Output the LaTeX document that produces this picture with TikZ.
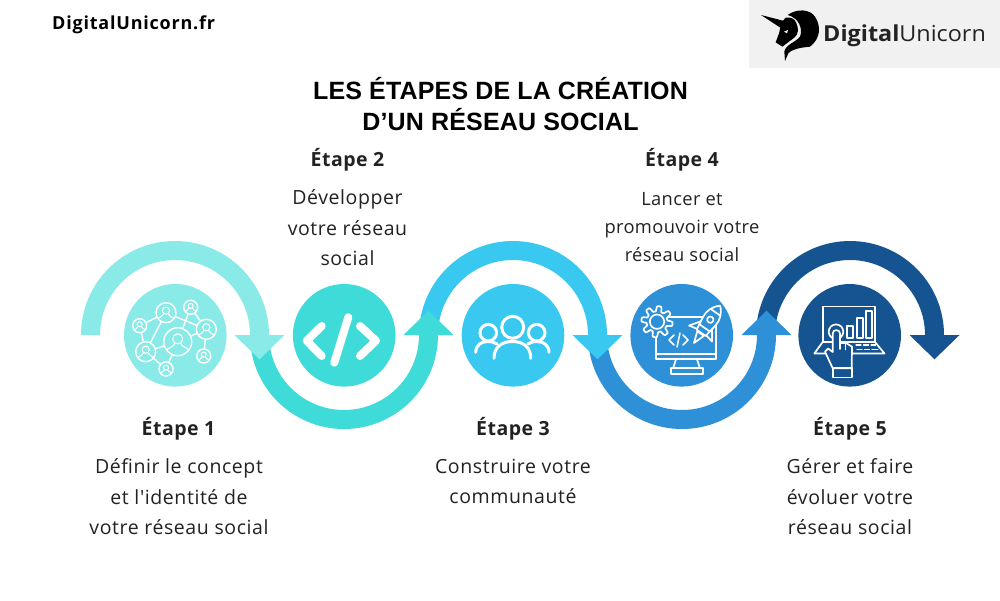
\documentclass[tikz,border=0pt]{standalone}
\usepackage{fontspec}
\setmainfont{Liberation Sans}
\newfontfamily\logofont{Open Sans}
\newfontfamily\bodyfont[LetterSpace=3]{Open Sans}
\newfontfamily\bodyfontB[LetterSpace=2]{Open Sans}
\newfontfamily\headfont[LetterSpace=2.5]{Open Sans}
\newfontfamily\sitefont[LetterSpace=4.4]{Open Sans}
\newfontfamily\titlefont[LetterSpace=0.7,BoldFont={Liberation Sans Bold}]{Liberation Sans}
\definecolor{cA}{HTML}{8AEAE8}
\definecolor{cB}{HTML}{3FDBD8}
\definecolor{cC}{HTML}{38C8F0}
\definecolor{cD}{HTML}{2E90D6}
\definecolor{cE}{HTML}{155490}
\definecolor{ink}{HTML}{222222}
\definecolor{logobg}{HTML}{F1F1F1}
\newcommand{\archtop}[2]{%
  \draw[#2,line width=19pt] ({#1-84.5},335) arc (180:0:84.5pt);
  \fill[#2] ({#1+59.5},335) -- ({#1+109.5},335) -- ({#1+84.5},359.3) -- cycle;}
\newcommand{\archlow}[2]{%
  \draw[#2,line width=19pt] ({#1-84.5},335) arc (180:360:84.5pt);
  \fill[#2] ({#1+59.5},335) -- ({#1+109.5},335) -- ({#1+84.5},310.7) -- cycle;}
\newcommand{\person}[3]{% centre x, y, radius
  \begin{scope}[shift={(#1,#2)}]
    \node[circle,draw=white,line width=1.4pt,minimum size={2*#3 pt},inner sep=0pt] at (0,0) {};
    \draw[white,line width=1pt] (0,{-.2*#3}) circle [radius={.36*#3 pt}];
    \draw[white,line width=1pt] ({-.8*#3},{.6*#3}) .. controls ({-.55*#3},{.35*#3}) and ({-.25*#3},{.35*#3}) .. ({-.22*#3},{.12*#3})
      ({.8*#3},{.6*#3}) .. controls ({.55*#3},{.35*#3}) and ({.25*#3},{.35*#3}) .. ({.22*#3},{.12*#3});
  \end{scope}}
\tikzset{
  disc/.style={circle,minimum size=102.6pt,inner sep=0pt,fill=#1},
  icon/.style={white,line width=1.7pt,line cap=round,line join=round},
  stephead/.style={font=\headfont\fontsize{19.5}{23}\selectfont\bfseries,text=ink,inner sep=0pt},
  stepbody/.style={font=\bodyfont\fontsize{19.5}{30.4}\selectfont,text=ink,align=center,inner sep=0pt},
  peer/.style={circle,minimum size=#1,inner sep=0pt}
}
\begin{document}
\begin{tikzpicture}[x=1pt,y=-1pt]
\useasboundingbox (0,0) rectangle (1000,600);
\fill[white] (0,0) rectangle (1000,600);

% ribbons, last first so each arrow head lies on the next ribbon
\archtop{850}{cE}
\archlow{682}{cD}
\archtop{513}{cC}
\archlow{344}{cB}
\archtop{175}{cA}

% discs
\node[disc=cA] (c1) at (175.3,335.3) {};
\node[disc=cB] (c2) at (344.2,335.3) {};
\node[disc=cC] (c3) at (513,335.3) {};
\node[disc=cD] (c4) at (681.7,335.3) {};
\node[disc=cE] (c5) at (849.7,335.3) {};

% icon 1: network of people
\node[peer=28pt] (p1) at (177.7,341.7) {};
\node[peer=20pt] (p2) at (166,312.7) {};
\node[peer=14pt] (p3) at (190.7,307.3) {};
\node[peer=20pt] (p4) at (206.3,329.3) {};
\node[peer=14pt] (p5) at (139.7,325.7) {};
\node[peer=20pt] (p6) at (145.7,351.7) {};
\node[peer=14pt] (p7) at (166,369) {};
\node[peer=14pt] (p8) at (203.7,356) {};
\draw[white,line width=1.4pt]
  (p2)--(p5) (p2)--(p6) (p2)--(p4) (p3)--(p4) (p3)--(p1) (p5)--(p6)
  (p6)--(p1) (p6)--(p7) (p1)--(p7) (p1)--(p4) (p4)--(p8);
\person{177.7}{341.7}{14}
\person{166}{312.7}{10}
\person{190.7}{307.3}{7}
\person{206.3}{329.3}{10}
\person{139.7}{325.7}{7}
\person{145.7}{351.7}{10}
\person{166}{369}{7}
\person{203.7}{356}{7}

% icon 2: code
\draw[white,line width=8pt,line cap=round,line join=round]
  (321.7,326) -- (306.7,340.7) -- (321.7,356)
  (360,326) -- (376,340.7) -- (360,356)
  (348.3,317.3) -- (334.3,362.7);

% icon 3: people
\begin{scope}[white,line width=3pt,line cap=round]
  \draw (512.7,327.3) circle [radius=11pt];
  \draw (488.3,332.7) circle [radius=8.3pt];
  \draw (536.7,332.7) circle [radius=8.3pt];
  \draw (494,358.3) .. controls (494,346) and (503,341.5) .. (512.5,341.5) .. controls (522,341.5) and (530.7,346) .. (530.7,358.3);
  \draw (475.7,352.3) .. controls (476,345) and (481,341.5) .. (488,341.5) .. controls (491,341.5) and (494,342) .. (497,344);
  \draw (549,352.3) .. controls (548.7,345) and (543.7,341.5) .. (536.7,341.5) .. controls (533.7,341.5) and (530.7,342) .. (527.7,344);
\end{scope}

% icon 4: monitor, gear, rocket
\begin{scope}[icon]
  \draw (656,317.3) rectangle (715.7,359.3);
  \draw (656,354) -- (715.7,354);
  \draw (676,359.3) -- (673,368.3) (697,359.3) -- (700,368.3);
  \draw (670.7,368.3) rectangle (702.7,374);
  \draw[line width=1.5pt] (674,335) -- (669,340) -- (674,345) (683,335) -- (688,340) -- (683,345) (680,333) -- (677,347);
  \draw[fill=cD] plot[domain=0:360,samples=121] ([shift={(657,321.7)}]\x:{13+2.6*min(1,max(-1,2*sin(8*\x+22)))}) -- cycle;
  \draw (657,321.7) circle [radius=7.2pt];
  \begin{scope}[shift={(706.3,325.4)},rotate=-35]
    \draw[fill=cD] (-7,0) -- (-14,10) -- (-5,8) -- cycle;
    \draw[fill=cD] (7,0) -- (14,10) -- (5,8) -- cycle;
    \draw[fill=cD] (-4,10) -- (0,21.5) -- (4,10) -- cycle;
    \draw[fill=cD] (0,-24) .. controls (6,-19) and (8.5,-12) .. (7.5,-5) -- (5.5,9) -- (-5.5,9) -- (-7.5,-5) .. controls (-8.5,-12) and (-6,-19) .. (0,-24) -- cycle;
    \draw (0,-7) circle [radius=3.2pt];
    \draw (-5.5,-16) -- (5.5,-16);
    \draw (-6.5,3) -- (6.5,3);
  \end{scope}
\end{scope}

% icon 5: laptop and hand
\begin{scope}[icon]
  \draw (822.7,342) -- (822.7,306.5) -- (875,306.5) -- (875,342);
  \draw (814.3,353.5) -- (884.5,353.5) -- (875,342) -- (822.7,342) -- cycle;
  \draw (847.3,326) rectangle (853.3,338.3);
  \draw (856.7,318.3) rectangle (862.7,338.3);
  \draw (866,311) rectangle (872,338.3);
  \draw[line width=1.2pt] (856,345) -- (861,345) (863.5,345) -- (868.5,345) (871,345) -- (875.5,345)
     (857,349.5) -- (862,349.5) (864.5,349.5) -- (869.5,349.5) (872,349.5) -- (878,349.5);
  \draw (836,331.7) circle [radius=7.3pt];
  \draw[fill=cE] (832.7,368.3) -- (825,351.7) -- (828,348.5) -- (832.7,352) -- (832.7,333.5)
     .. controls (832.7,329) and (840,329) .. (840,333.5) -- (840,343)
     -- (846,343) -- (852,346.7) -- (851.7,368.3) -- cycle;
  \draw (845.5,343.5) -- (845.5,349.5) (840,343) -- (840,349);
  \draw (832.7,368.3) rectangle (851.7,377.5);
\end{scope}

% logo
\fill[logobg] (749,0) rectangle (1000,68);
\begin{scope}[shift={(755,5)},x=.3333pt,y=-.3333pt]
  \fill[black] (18,30) -- (84,47) -- (92,38) .. controls (108,36) and (118,40) .. (124,54)
    .. controls (132,72) and (130,88) .. (118,98) -- (82,125) -- (62,112) -- (72,85) -- (76,68) -- cycle;
  \fill[black] (98,30) .. controls (125,10) and (165,12) .. (180,35)
    .. controls (198,62) and (198,100) .. (165,125) -- (140,128)
    .. controls (120,132) and (105,138) .. (100,145) -- (90,168) -- (88,140)
    .. controls (92,118) and (122,112) .. (135,95) .. controls (145,70) and (130,38) .. (98,30) -- cycle;
  \fill[logobg] (87,80) -- (99,75) -- (96,85) -- cycle;
\end{scope}
\node[anchor=base west,inner sep=0pt,xscale=1.063,font=\logofont\fontsize{22}{26}\selectfont,text=ink] (logo) at (823,41)
  {\textbf{Digital}Unicorn};

% captions
\node[anchor=base west,inner sep=0pt,font=\sitefont\fontsize{18}{20}\selectfont\bfseries,text=black] (site) at (52,29) {DigitalUnicorn.fr};
\node[anchor=base,inner sep=0pt,font=\titlefont\fontsize{25}{32}\selectfont\bfseries,text=black] (title1) at (500.5,99) {LES ÉTAPES DE LA CRÉATION};
\node[anchor=base,inner sep=0pt,font=\titlefont\fontsize{25}{32}\selectfont\bfseries,text=black] (title2) at (500.5,130.5) {D’UN RÉSEAU SOCIAL};

\node[stephead] (h1) at (178.5,429) {Étape 1};
\node[stepbody] (b1) at (179,497) {Définir le concept\\et l'identité de\\votre réseau social};
\node[stephead] (h2) at (347.5,160) {Étape 2};
\node[stepbody] (b2) at (347.5,228) {Développer\\votre réseau\\social};
\node[stephead] (h3) at (513,429) {Étape 3};
\node[stepbody] (b3) at (513,481.5) {Construire votre\\communauté};
\node[stephead] (h4) at (682,160) {Étape 4};
\node[stepbody,font=\bodyfontB\fontsize{18.3}{28}\selectfont] (b4) at (682,227) {Lancer et\\promouvoir votre\\réseau social};
\node[stephead] (h5) at (850,429) {Étape 5};
\node[stepbody] (b5) at (850,497) {Gérer et faire\\évoluer votre\\réseau social};
\end{tikzpicture}
\end{document}
